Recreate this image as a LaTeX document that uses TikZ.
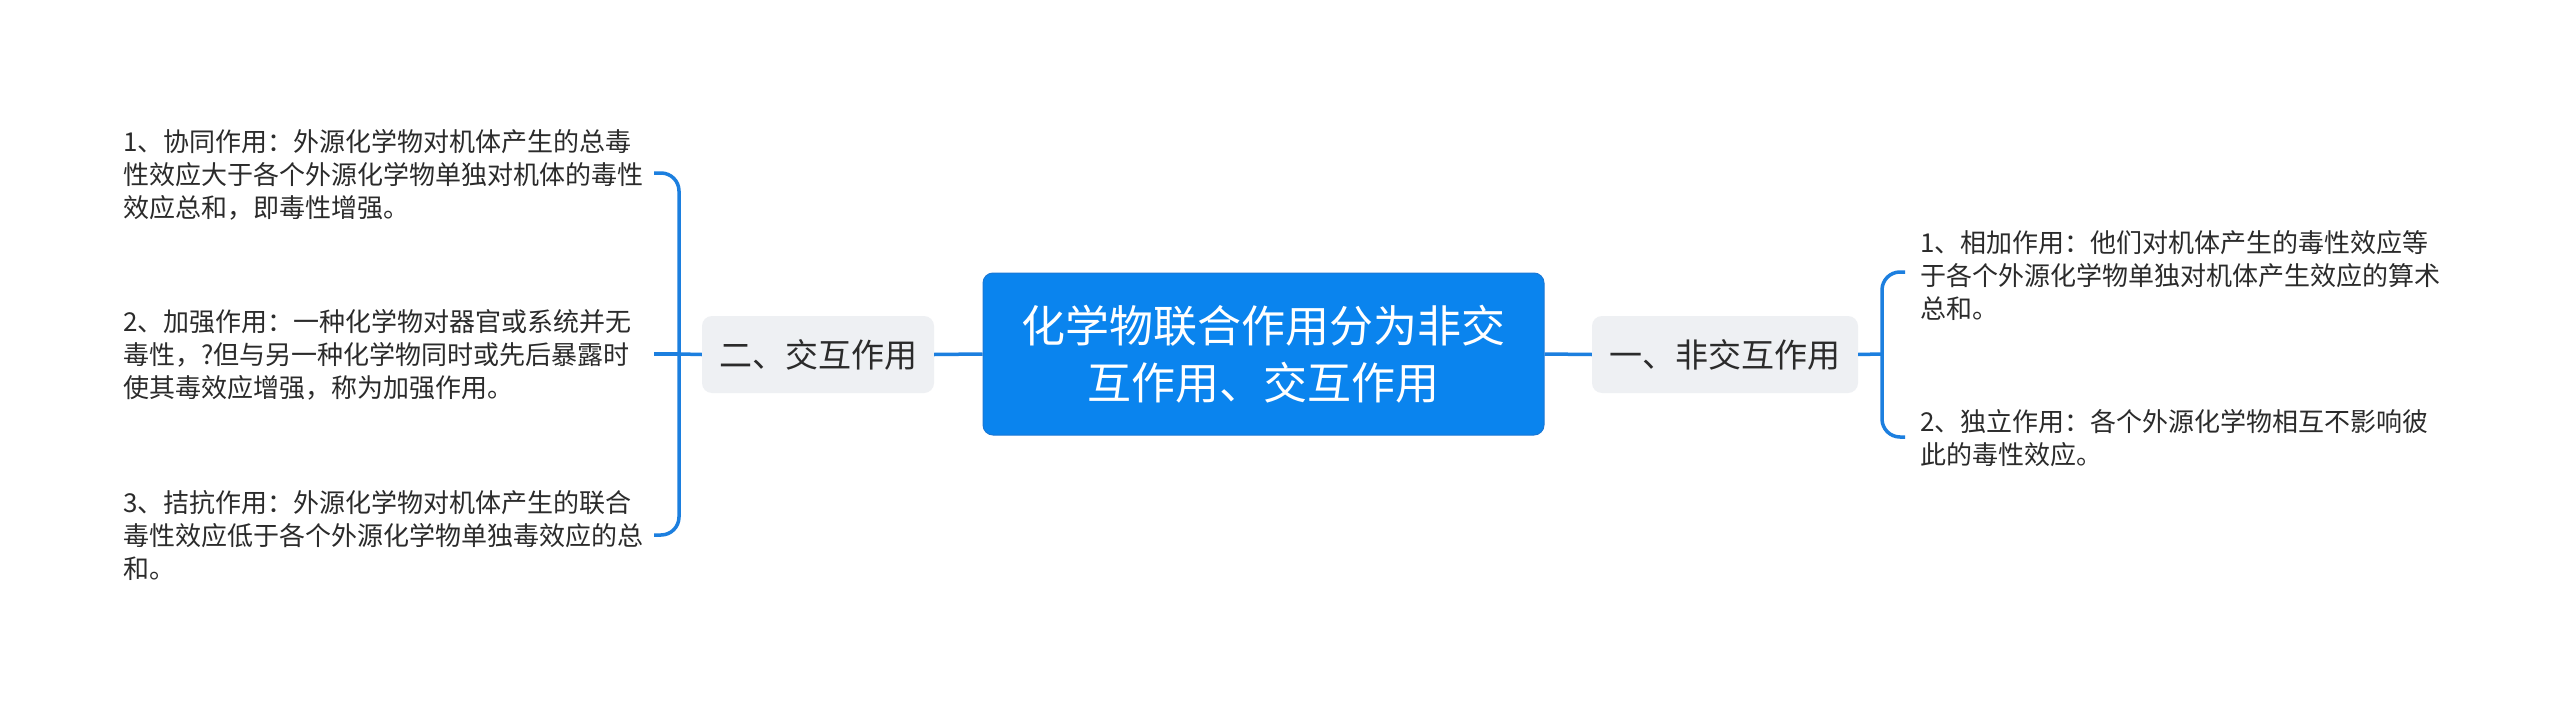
\documentclass[tikz,border=0pt]{standalone}
\usepackage{fontspec}
\setmainfont{Noto Sans CJK SC}
\usetikzlibrary{positioning}
\definecolor{mainblue}{HTML}{0A84EE}
\definecolor{rootedge}{HTML}{1A78D6}
\definecolor{linkblue}{HTML}{1C7FDF}
\definecolor{subgray}{HTML}{EEF0F3}
\definecolor{txt}{HTML}{2B2B2B}
\tikzset{
  conn/.style={draw=linkblue, line width=3.5pt, rounded corners=18pt},
  rootbox/.style={fill=mainblue, draw=rootedge, line width=1pt, rounded corners=10pt, text=white, align=center,
    minimum width=561pt, minimum height=162pt, inner sep=0pt,
    font=\fontsize{44pt}{57pt}\selectfont},
  subbox/.style={fill=subgray, rounded corners=10pt, text=txt,
    minimum height=77pt, inner sep=0pt, font=\fontsize{33pt}{40pt}\selectfont},
  leaf/.style={text=txt, align=left, inner sep=0pt,
    font=\fontsize{26pt}{33pt}\selectfont},
}
\begin{document}
\begin{tikzpicture}[x=1pt,y=-1pt]
\useasboundingbox (0,0) rectangle (2560,709);
\fill[white] (0,0) rectangle (2560,709);

\node[rootbox] (root) at (1263.5,354) {化学物联合作用分为非交\\互作用、交互作用};
\node[subbox, minimum width=232pt] (L) at (818,354.5) {二、交互作用};
\node[subbox, minimum width=266pt] (R) at (1725,354.5) {一、非交互作用};

\node[leaf, anchor=west] (L1) at (123,175) {1、协同作用：外源化学物对机体产生的总毒\\性效应大于各个外源化学物单独对机体的毒性\\效应总和，即毒性增强。};
\node[leaf, anchor=west] (L2) at (123,355) {2、加强作用：一种化学物对器官或系统并无\\毒性，?但与另一种化学物同时或先后暴露时\\使其毒效应增强，称为加强作用。};
\node[leaf, anchor=west] (L3) at (123,535) {3、拮抗作用：外源化学物对机体产生的联合\\毒性效应低于各个外源化学物单独毒效应的总\\和。};

\node[leaf, anchor=west] (R1) at (1920,275) {1、相加作用：他们对机体产生的毒性效应等\\于各个外源化学物单独对机体产生效应的算术\\总和。};
\node[leaf, anchor=west] (R2) at (1920,438.5) {2、独立作用：各个外源化学物相互不影响彼\\此的毒性效应。};

\coordinate (bL) at (679,354);
\coordinate (bR) at (1882,354);
\coordinate (L1e) at (654,173);
\coordinate (L2e) at (654,354);
\coordinate (L3e) at (654,535);
\coordinate (R1w) at (1905,272);
\coordinate (R2w) at (1905,437);

\draw[conn] (root.west) -- (L.east);
\draw[conn] (root.east) -- (R.west);
\draw[conn] (L.west) -- (bL);
\draw[conn] (bL) |- (L1e);
\draw[conn] (bL) -- (L2e);
\draw[conn] (bL) |- (L3e);
\draw[conn] (R.east) -- (bR);
\draw[conn] (bR) |- (R1w);
\draw[conn] (bR) |- (R2w);
\end{tikzpicture}
\end{document}
